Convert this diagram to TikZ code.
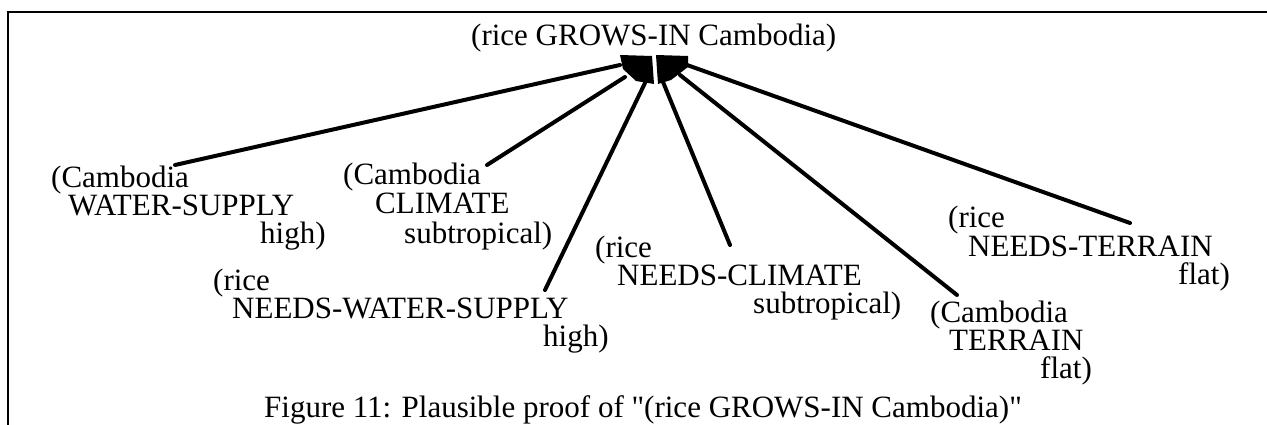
\documentclass[tikz,border=0pt]{standalone}
\usepackage{fontspec}
\setmainfont{Liberation Serif}[Ligatures=TeXOff]
\begin{document}
\begin{tikzpicture}[x=1pt,y=-1pt,
  lbl/.style={anchor=base west, inner sep=0pt, font=\fontsize{31}{31}\selectfont},
  link/.style={line width=4pt, line cap=round},
  frame/.style={line width=2.8pt},
  andarc/.style={fill=black}]
\useasboundingbox (0,0) rectangle (1267,425);

% open frame: left and top edges
\draw[frame] (8,425) -- (8,12) -- (1267,12);

% goal
\node[lbl] (goal) at (471,46) {(rice GROWS-IN Cambodia)};

% premises
\node[lbl] (a1) at (51,187)  {(Cambodia};
\node[lbl] (a2) at (68,215)  {WATER-SUPPLY};
\node[lbl] (a3) at (260,243) {high)};

\node[lbl] (b1) at (343,185) {(Cambodia};
\node[lbl] (b2) at (375,214) {CLIMATE};
\node[lbl] (b3) at (404,243) {subtropical)};

\node[lbl] (c1) at (213,290) {(rice};
\node[lbl] (c2) at (232,318) {NEEDS-WATER-SUPPLY};
\node[lbl] (c3) at (543,346) {high)};

\node[lbl] (d1) at (595,257) {(rice};
\node[lbl] (d2) at (617,285) {NEEDS-CLIMATE};
\node[lbl] (d3) at (753,313) {subtropical)};

\node[lbl] (e1) at (930,322)  {(Cambodia};
\node[lbl] (e2) at (949,350)  {TERRAIN};
\node[lbl] (e3) at (1040,378) {flat)};

\node[lbl] (f1) at (948,227)  {(rice};
\node[lbl] (f2) at (968,256)  {NEEDS-TERRAIN};
\node[lbl] (f3) at (1178,284) {flat)};

% caption
\node[lbl] (caption) at (264,417) {Figure 11: Plausible proof of "(rice GROWS-IN Cambodia)"};

% connector ends at the premises
\coordinate (ta) at (175,165);
\coordinate (tb) at (487,165);
\coordinate (tc) at (545,290);
\coordinate (td) at (730,245);
\coordinate (te) at (957,295);
\coordinate (tf) at (1130,223);

% connector ends under the goal
\coordinate (ga) at (620,65);
\coordinate (gb) at (625,77);
\coordinate (gc) at (645,83);
\coordinate (gd) at (663,82);
\coordinate (ge) at (680,75);
\coordinate (gf) at (687,65);

\draw[link] (ta) -- (ga);
\draw[link] (tb) -- (gb);
\draw[link] (tc) -- (gc);
\draw[link] (td) -- (gd);
\draw[link] (te) -- (ge);
\draw[link] (tf) -- (gf);

% conjunction arcs
\fill[andarc] (620,55) -- (652,56) -- (654,84) -- (636,81) -- (623,69) -- cycle;
\fill[andarc] (656,55) -- (688,56) -- (688,67) -- (671,80) -- (658,84) -- cycle;
\end{tikzpicture}
\end{document}
